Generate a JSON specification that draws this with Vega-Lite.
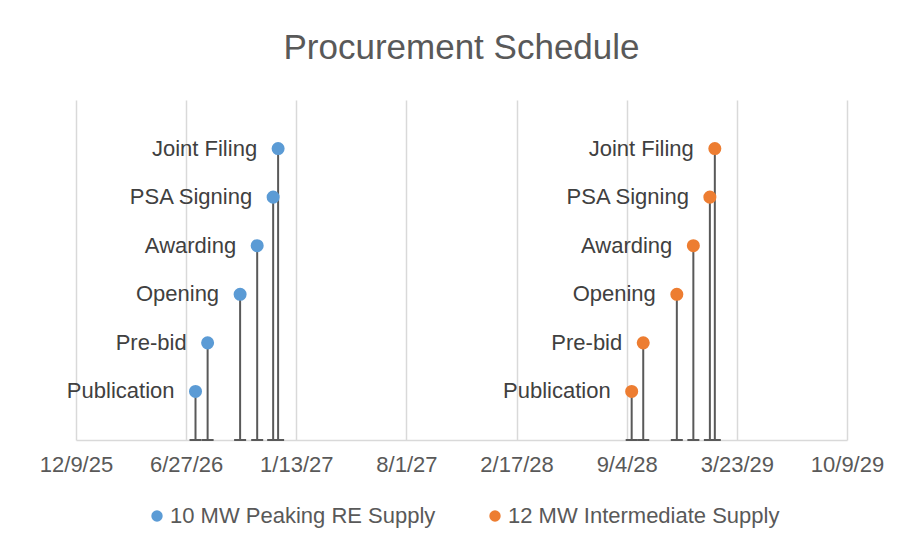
{
  "$schema": "https://vega.github.io/schema/vega-lite/v6.json",
  "autosize": {"type": "none"},
  "width": 771,
  "height": 340,
  "padding": {"left": 76, "top": 100, "right": 52, "bottom": 106},
  "background": "white",
  "title": {
    "text": "Procurement Schedule",
    "fontSize": 35,
    "font": "Arial, Liberation Sans, sans-serif",
    "fontWeight": "normal",
    "color": "#595959",
    "anchor": "middle",
    "offset": 34
  },
  "config": {
    "view": {"stroke": null},
    "font": "Arial, Liberation Sans, sans-serif"
  },
  "data": {
    "values": [
      {"series": "10 MW Peaking RE Supply", "milestone": "Publication", "date": "2026-07-14", "level": 1},
      {"series": "10 MW Peaking RE Supply", "milestone": "Pre-bid", "date": "2026-08-05", "level": 2},
      {"series": "10 MW Peaking RE Supply", "milestone": "Opening", "date": "2026-10-03", "level": 3},
      {"series": "10 MW Peaking RE Supply", "milestone": "Awarding", "date": "2026-11-03", "level": 4},
      {"series": "10 MW Peaking RE Supply", "milestone": "PSA Signing", "date": "2026-12-02", "level": 5},
      {"series": "10 MW Peaking RE Supply", "milestone": "Joint Filing", "date": "2026-12-11", "level": 6},
      {"series": "12 MW Intermediate Supply", "milestone": "Publication", "date": "2028-09-13", "level": 1},
      {"series": "12 MW Intermediate Supply", "milestone": "Pre-bid", "date": "2028-10-04", "level": 2},
      {"series": "12 MW Intermediate Supply", "milestone": "Opening", "date": "2028-12-04", "level": 3},
      {"series": "12 MW Intermediate Supply", "milestone": "Awarding", "date": "2029-01-03", "level": 4},
      {"series": "12 MW Intermediate Supply", "milestone": "PSA Signing", "date": "2029-02-02", "level": 5},
      {"series": "12 MW Intermediate Supply", "milestone": "Joint Filing", "date": "2029-02-11", "level": 6}
    ]
  },
  "encoding": {
    "x": {
      "field": "date",
      "type": "temporal",
      "scale": {
        "type": "utc",
        "domain": [
          {"year": 2025, "month": 12, "date": 9, "utc": true},
          {"year": 2029, "month": 10, "date": 9, "utc": true}
        ],
        "nice": false
      },
      "axis": {
        "title": null,
        "values": [
          {"year": 2025, "month": 12, "date": 9, "utc": true},
          {"year": 2026, "month": 6, "date": 27, "utc": true},
          {"year": 2027, "month": 1, "date": 13, "utc": true},
          {"year": 2027, "month": 8, "date": 1, "utc": true},
          {"year": 2028, "month": 2, "date": 17, "utc": true},
          {"year": 2028, "month": 9, "date": 4, "utc": true},
          {"year": 2029, "month": 3, "date": 23, "utc": true},
          {"year": 2029, "month": 10, "date": 9, "utc": true}
        ],
        "format": "%-m/%-d/%y",
        "grid": true,
        "gridColor": "#d9d9d9",
        "gridWidth": 1.5,
        "domainColor": "#d9d9d9",
        "domainWidth": 1.5,
        "ticks": false,
        "labelFontSize": 22,
        "labelColor": "#595959",
        "labelPadding": 14,
        "labelFont": "Arial, Liberation Sans, sans-serif",
        "labelOverlap": false,
        "labelFlush": false
      }
    }
  },
  "layer": [
    {
      "mark": {"type": "rule", "color": "#595959", "strokeWidth": 2},
      "encoding": {
        "y": {"field": "level", "type": "quantitative", "scale": {"domain": [0, 7], "nice": false}, "axis": null},
        "y2": {"datum": 0}
      }
    },
    {
      "mark": {"type": "tick", "orient": "horizontal", "color": "#595959", "size": 12, "thickness": 2, "opacity": 1},
      "encoding": {
        "y": {"datum": 0, "type": "quantitative"}
      }
    },
    {
      "mark": {"type": "circle", "size": 170, "opacity": 1},
      "encoding": {
        "y": {"field": "level", "type": "quantitative"},
        "color": {
          "field": "series",
          "type": "nominal",
          "scale": {
            "domain": ["10 MW Peaking RE Supply", "12 MW Intermediate Supply"],
            "range": ["#5b9bd5", "#ed7d31"]
          },
          "legend": {
            "title": null,
            "orient": "none",
            "direction": "horizontal",
            "legendX": 70,
            "legendY": 405,
            "symbolType": "circle",
            "symbolSize": 130,
            "symbolOpacity": 1,
            "symbolStrokeWidth": 0,
            "labelFontSize": 22,
            "labelColor": "#595959",
            "labelFont": "Arial, Liberation Sans, sans-serif",
            "labelOffset": 2,
            "columnPadding": 48,
            "labelLimit": 400
          }
        }
      }
    },
    {
      "mark": {"type": "text", "align": "right", "baseline": "middle", "dx": -21, "fontSize": 22, "color": "#404040", "font": "Arial, Liberation Sans, sans-serif"},
      "encoding": {
        "y": {"field": "level", "type": "quantitative"},
        "text": {"field": "milestone", "type": "nominal"}
      }
    }
  ]
}
